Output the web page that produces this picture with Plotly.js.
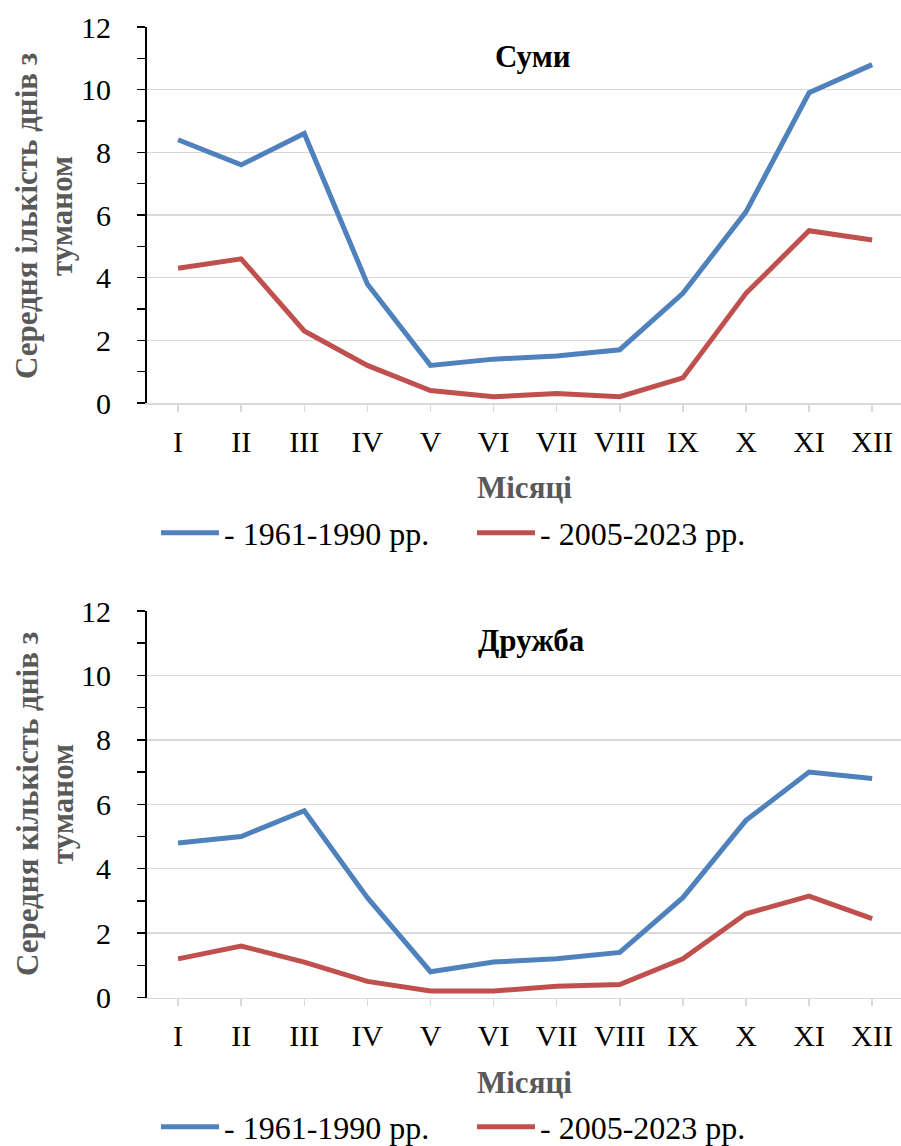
<!DOCTYPE html>
<html>
<head>
<meta charset="utf-8">
<script src="https://cdn.plot.ly/plotly-3.0.1.min.js"></script>
<style>html,body{margin:0;padding:0;background:#fff;overflow:hidden;}#chart{width:901px;height:1146px;}</style>
</head>
<body>
<div id="chart"></div>
<script>
// Data
const months = ['I','II','III','IV','V','VI','VII','VIII','IX','X','XI','XII'];
const sumy_1961_1990 = [8.4, 7.6, 8.6, 3.8, 1.2, 1.4, 1.5, 1.7, 3.5, 6.1, 9.9, 10.8];
const sumy_2005_2023 = [4.3, 4.6, 2.3, 1.2, 0.4, 0.2, 0.3, 0.2, 0.8, 3.5, 5.5, 5.2];
const druzhba_1961_1990 = [4.8, 5.0, 5.8, 3.1, 0.8, 1.1, 1.2, 1.4, 3.1, 5.5, 7.0, 6.8];
const druzhba_2005_2023 = [1.2, 1.6, 1.1, 0.5, 0.2, 0.2, 0.35, 0.4, 1.2, 2.6, 3.15, 2.45];
const seriesNames = ['- 1961-1990 рр.', '- 2005-2023 рр.'];
const stationNames = ['Суми', 'Дружба'];
const yTitleLine1 = ['Середня ількість днів з', 'Середня кількість днів з'];
const yTitleLine2 = ['туманом', 'туманом'];
const xTitle = 'Місяці';

const W = 901, H = 1146;
const FONT = 'Liberation Serif, Times New Roman, serif';
const BLUE = '#4F81BD', RED = '#C0504D';
const GRID = '#d9d9d9';

const py = p => 1 - p / H;
const px = p => p / W;

const traces = [
  {x: months, y: sumy_1961_1990, name: seriesNames[0], type: 'scatter', mode: 'lines',
   line: {color: BLUE, width: 5}, xaxis: 'x', yaxis: 'y', legend: 'legend'},
  {x: months, y: sumy_2005_2023, name: seriesNames[1], type: 'scatter', mode: 'lines',
   line: {color: RED, width: 5}, xaxis: 'x', yaxis: 'y', legend: 'legend'},
  {x: months, y: druzhba_1961_1990, name: seriesNames[0], type: 'scatter', mode: 'lines',
   line: {color: BLUE, width: 5}, xaxis: 'x2', yaxis: 'y2', legend: 'legend2'},
  {x: months, y: druzhba_2005_2023, name: seriesNames[1], type: 'scatter', mode: 'lines',
   line: {color: RED, width: 5}, xaxis: 'x2', yaxis: 'y2', legend: 'legend2'}
];

function xAxis(anchor) {
  return {
    anchor: anchor, domain: [px(146.5), 1], type: 'category',
    range: [-0.5, 11.457], showgrid: false, zeroline: false,
    showline: true, linecolor: GRID, linewidth: 1.5,
    ticks: 'outside', ticklen: 7, tickcolor: GRID, tickwidth: 1.5,
    ticklabelstandoff: 4,
    tickfont: {family: FONT, size: 30, color: '#000'}
  };
}
function yAxis(anchor, dom) {
  return {
    anchor: anchor, domain: dom, range: [0, 12], dtick: 2, tick0: 0,
    showgrid: true, gridcolor: GRID, gridwidth: 1.4, zeroline: false,
    showline: true, linecolor: '#000', linewidth: 1.5,
    ticks: 'outside', ticklen: 8, tickcolor: '#000', tickwidth: 1.5,
    ticklabelstandoff: 20,
    minor: {dtick: 1, tick0: 0, ticks: 'outside', ticklen: 8, tickcolor: '#000', tickwidth: 1.5, showgrid: false},
    tickfont: {family: FONT, size: 30, color: '#000'}
  };
}

function legendCfg(yc) {
  return {
    orientation: 'h', x: px(156), xanchor: 'left', y: py(yc), yanchor: 'middle',
    font: {family: FONT, size: 32, color: '#000'},
    itemwidth: 58, entrywidth: 243, entrywidthmode: 'pixels',
    bgcolor: 'rgba(0,0,0,0)', borderwidth: 0, traceorder: 'normal'
  };
}

const titleFont = {family: FONT, size: 31, color: '#595959', weight: 'bold'};
function ann(text, x, y, font, angle) {
  const a = {text: '<b>' + text + '</b>', x: px(x), y: py(y), xref: 'paper', yref: 'paper',
    xanchor: 'center', yanchor: 'middle', showarrow: false, font: font};
  if (angle) a.textangle = angle;
  return a;
}
const stFont = {family: FONT, size: 31, color: '#000'};
const annotations = [
  ann(stationNames[0], 533, 57, stFont),
  ann(stationNames[1], 531, 640, stFont),
  ann(yTitleLine1[0], 27, 216, titleFont, -90),
  ann(yTitleLine2[0], 62, 216, titleFont, -90),
  ann(yTitleLine1[1], 27, 804, titleFont, -90),
  ann(yTitleLine2[1], 62, 804, titleFont, -90),
  ann(xTitle, 524, 487, titleFont),
  ann(xTitle, 524, 1082, titleFont)
];

const layout = {
  width: W, height: H,
  margin: {l: 0, r: 0, t: 0, b: 0, pad: 0, autoexpand: false},
  paper_bgcolor: '#fff', plot_bgcolor: '#fff',
  font: {family: FONT},
  xaxis: xAxis('y'),
  yaxis: yAxis('x', [py(403), py(27)]),
  xaxis2: xAxis('y2'),
  yaxis2: yAxis('x2', [py(997.5), py(611)]),
  legend: legendCfg(533),
  legend2: legendCfg(1127),
  annotations: annotations,
  showlegend: true
};

Plotly.newPlot('chart', traces, layout, {staticPlot: true});
</script>
</body>
</html>
